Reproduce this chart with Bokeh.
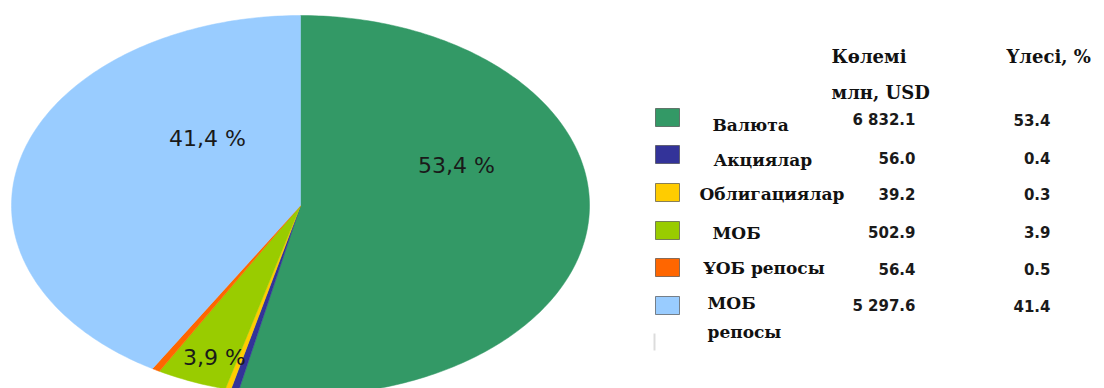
import numpy as np
from bokeh.plotting import figure
from bokeh.models import Range1d, ColumnDataSource
from bokeh.core.properties import value
from bokeh.embed import file_html
from bokeh.resources import INLINE

# ---------------- data ----------------
categories = ["Валюта", "Акциялар", "Облигациялар", "МОБ", "ҰОБ репосы", "МОБ репосы"]
legend_labels = ["Валюта", "Акциялар", "Облигациялар", "МОБ", "ҰОБ репосы", "МОБ\nрепосы"]
volumes = [6832.1, 56.0, 39.2, 502.9, 56.4, 5297.6]
volume_labels = ["6 832.1", "56.0", "39.2", "502.9", "56.4", "5 297.6"]
shares = [53.4, 0.4, 0.3, 3.9, 0.5, 41.4]
share_labels = ["53.4", "0.4", "0.3", "3.9", "0.5", "41.4"]
pie_labels = ["53,4 %", "", "", "3,9 %", "", "41,4 %"]
colors = ["#339966", "#333399", "#FFCC00", "#99CC00", "#FF6600", "#99CCFF"]
header_volume = "Көлемі\nмлн, USD"
header_share = "Үлесі, %"

# ---------------- layout (pixel-like coordinates) ----------------
W, H = 1104, 388
p = figure(width=W, height=H, output_backend="svg", toolbar_location=None,
           x_range=Range1d(0, W), y_range=Range1d(H, 0),
           min_border=0, background_fill_color="white", border_fill_color="white")
p.axis.visible = False
p.grid.visible = False
p.outline_line_color = None

# pie: circle stretched into an ellipse
cx, cy, rx, ry = 300, 205, 289, 190
vals = np.array(volumes, dtype=float)
frac = vals / vals.sum()
ends = np.cumsum(frac)
starts = ends - frac
xs, ys = [], []
for s, e in zip(starts, ends):
    th = np.linspace(2 * np.pi * s, 2 * np.pi * e, max(4, int(400 * (e - s))))
    xs.append(np.concatenate([[cx], cx + rx * np.sin(th), [cx]]))
    ys.append(np.concatenate([[cy], cy - ry * np.cos(th), [cy]]))
p.patches(xs, ys, fill_color=colors, line_color=colors, line_width=0.5)

# pie percentage labels
pie_lab_x = [456, 0, 0, 214, 0, 207]
pie_lab_y = [165, 0, 0, 357, 0, 138]
lab_src = ColumnDataSource(dict(
    x=[x for x, t in zip(pie_lab_x, pie_labels) if t],
    y=[y for y, t in zip(pie_lab_y, pie_labels) if t],
    t=[t for t in pie_labels if t]))
p.text("x", "y", text="t", source=lab_src, text_align="center", text_baseline="middle",
       text_font=value("DejaVu Sans"), text_font_size="22px", text_color="#1a1a1a")

# legend squares
sq_y = [117, 154, 192, 230, 267, 305]
p.rect(x=[667] * 6, y=sq_y, width=24, height=18, fill_color=colors,
       line_color="#3a3a3a", line_alpha=0.6, line_width=1)

# legend labels
lab_x = [712, 713, 699, 712, 703, 707]
lab_y = [114, 149, 183, 222, 257, 292]
p.text(x=lab_x, y=lab_y, text=legend_labels, text_align="left", text_baseline="top",
       text_font=value("DejaVu Serif"), text_font_style="bold", text_font_size="17px",
       text_color="#111111", text_line_height=1.45)

# values
val_y = [119, 157, 193, 231, 268, 305]
p.text(x=[915] * 6, y=val_y, text=volume_labels, text_align="right", text_baseline="middle",
       text_font=value("DejaVu Sans"), text_font_style="bold", text_font_size="15px",
       text_color="#1a1a1a")
p.text(x=[1050] * 6, y=val_y, text=share_labels, text_align="right", text_baseline="middle",
       text_font=value("DejaVu Sans"), text_font_style="bold", text_font_size="15px",
       text_color="#1a1a1a")

# headers
p.text(x=[831], y=[45], text=[header_volume], text_align="left", text_baseline="top",
       text_font=value("DejaVu Serif"), text_font_style="bold", text_font_size="18px",
       text_color="#111111", text_line_height=1.75)
p.text(x=[1006], y=[45], text=[header_share], text_align="left", text_baseline="top",
       text_font=value("DejaVu Serif"), text_font_style="bold", text_font_size="18px",
       text_color="#111111")

# faint separator fragment
p.segment(x0=[654], y0=[333], x1=[654], y1=[350], line_color="#dcdcdc", line_width=2)

open("out.html", "w").write(file_html(p, INLINE))
